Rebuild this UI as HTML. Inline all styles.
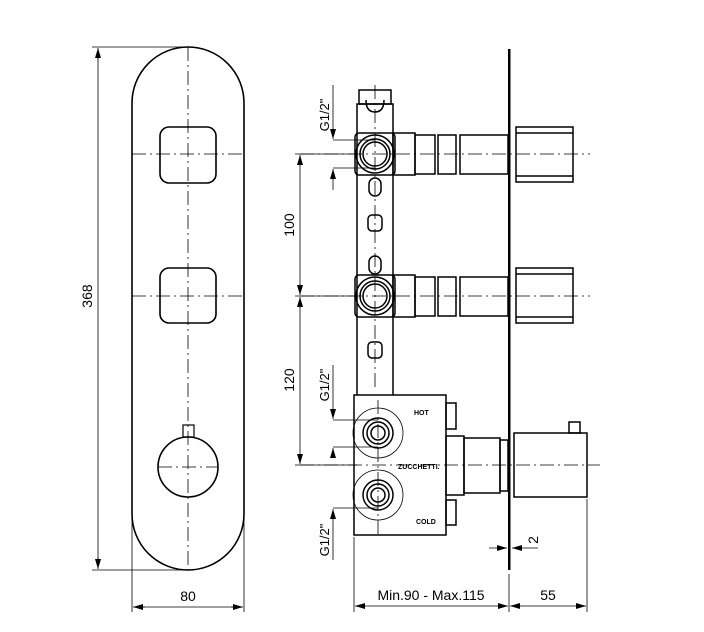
<!DOCTYPE html>
<html><head><meta charset="utf-8"><style>
html,body{margin:0;padding:0;background:#fff;}
svg{display:block;}
text{font-family:"Liberation Sans",sans-serif;fill:#000;}
</style></head><body>
<svg width="704" height="632" viewBox="0 0 704 632" xmlns="http://www.w3.org/2000/svg">
<defs>
<marker id="a" markerWidth="10" markerHeight="6" refX="10" refY="3" orient="auto" markerUnits="userSpaceOnUse"><path d="M0,0 L10,3 L0,6 z" fill="#000"/></marker>
</defs>
<g fill="none" stroke="#000" stroke-width="1.6">
<path d="M132,103 A56,56 0 0 1 244,103 L244,514 A56,56 0 0 1 132,514 Z"/>
<rect x="160" y="127" width="56" height="56" rx="9"/>
<rect x="160" y="268" width="56" height="55" rx="9"/>
<circle cx="188" cy="467" r="30"/>
<rect x="183" y="425" width="11" height="12" stroke-width="1.2"/>
</g>
<g fill="none" stroke="#000" stroke-width="0.8" stroke-dasharray="14,4,2,4">
<line x1="188" y1="47" x2="188" y2="570"/>
<line x1="132" y1="154" x2="244" y2="154"/>
<line x1="132" y1="296" x2="244" y2="296"/>
<line x1="158" y1="467" x2="218" y2="467"/>
</g>
<g stroke="#000" stroke-width="0.8" fill="none">
<line x1="92" y1="47" x2="188" y2="47"/>
<line x1="92" y1="570" x2="188" y2="570"/>
<line x1="98" y1="57" x2="98" y2="560"/>
<line x1="98" y1="60" x2="98" y2="48" marker-end="url(#a)"/>
<line x1="98" y1="557" x2="98" y2="569" marker-end="url(#a)"/>
<line x1="132" y1="520" x2="132" y2="612"/>
<line x1="244" y1="520" x2="244" y2="612"/>
<line x1="142" y1="607" x2="234" y2="607"/>
<line x1="145" y1="607" x2="133" y2="607" marker-end="url(#a)"/>
<line x1="231" y1="607" x2="243" y2="607" marker-end="url(#a)"/>
</g>
<text x="92" y="296" font-size="14" text-anchor="middle" transform="rotate(-90 92 296)">368</text>
<text x="188" y="601" font-size="14" text-anchor="middle">80</text>

<rect x="508" y="49" width="2.5" height="521" fill="#000"/>
<g fill="none" stroke="#000" stroke-width="1.5">
<path d="M357,395 L357,104 L393,104 L393,395"/>
<rect x="359" y="90" width="32" height="14"/>
<path d="M366,100 Q366,112 375,112 Q384,112 384,100"/>
<rect x="355" y="133" width="40" height="42" rx="4"/>
<circle cx="375" cy="154" r="19"/><circle cx="375" cy="154" r="15"/><circle cx="375" cy="154" r="12"/>
<rect x="393" y="133" width="22" height="42"/>
<rect x="415" y="135" width="20" height="39"/>
<rect x="438" y="135" width="18" height="39"/>
<rect x="460" y="135" width="48" height="39"/>
<rect x="516" y="127" width="57" height="55"/>
<line x1="516" y1="133" x2="573" y2="133"/><line x1="516" y1="176" x2="573" y2="176"/>
<rect x="369" y="178" width="12" height="18" rx="6"/>
<rect x="368" y="215" width="14" height="16" rx="4"/>
<rect x="369" y="256" width="12" height="18" rx="6"/>
<rect x="355" y="275" width="40" height="42" rx="4"/>
<circle cx="375" cy="296" r="19"/><circle cx="375" cy="296" r="15"/><circle cx="375" cy="296" r="12"/>
<rect x="393" y="275" width="22" height="42"/>
<rect x="415" y="277" width="20" height="39"/>
<rect x="438" y="277" width="18" height="39"/>
<rect x="460" y="277" width="48" height="39"/>
<rect x="516" y="268" width="57" height="55"/>
<line x1="516" y1="274" x2="573" y2="274"/><line x1="516" y1="317" x2="573" y2="317"/>
<rect x="368" y="342" width="14" height="16" rx="4"/>
<rect x="354" y="395" width="92" height="140"/>
<circle cx="378" cy="433" r="25" stroke-width="0.8"/>
<circle cx="378" cy="433" r="15"/><circle cx="378" cy="433" r="11"/><circle cx="378" cy="433" r="7"/>
<circle cx="378" cy="495" r="25" stroke-width="0.8"/>
<circle cx="378" cy="495" r="15"/><circle cx="378" cy="495" r="11"/><circle cx="378" cy="495" r="7"/>
<rect x="446" y="403" width="10" height="26"/>
<rect x="446" y="500" width="10" height="25"/>
<rect x="446" y="436" width="18" height="59"/>
<rect x="464" y="438" width="36" height="55"/>
<rect x="500" y="440" width="8" height="51"/>
<rect x="514" y="433" width="73" height="64"/>
<rect x="569" y="422" width="11" height="11"/>
</g>
<g fill="none" stroke="#000" stroke-width="0.8" stroke-dasharray="14,4,2,4">
<line x1="375" y1="85" x2="375" y2="390"/>
<line x1="300" y1="154" x2="590" y2="154"/>
<line x1="300" y1="296" x2="590" y2="296"/>
<line x1="300" y1="465" x2="600" y2="465"/>
<line x1="378" y1="400" x2="378" y2="535"/>
</g>
<text x="414" y="415" font-size="7" font-weight="bold">HOT</text>
<text x="398" y="469" font-size="7" font-weight="bold">ZUCCHETTI.</text>
<text x="416" y="524" font-size="7" font-weight="bold">COLD</text>
<g stroke="#000" stroke-width="0.8" fill="none">
<line x1="295" y1="154" x2="357" y2="154"/>
<line x1="295" y1="296" x2="357" y2="296"/>
<line x1="295" y1="465" x2="357" y2="465"/>
<line x1="300" y1="166" x2="300" y2="155" marker-end="url(#a)"/>
<line x1="300" y1="166" x2="300" y2="284"/>
<line x1="300" y1="284" x2="300" y2="295" marker-end="url(#a)"/>
<line x1="300" y1="308" x2="300" y2="297" marker-end="url(#a)"/>
<line x1="300" y1="308" x2="300" y2="453"/>
<line x1="300" y1="453" x2="300" y2="464" marker-end="url(#a)"/>
<line x1="333" y1="85" x2="333" y2="139" marker-end="url(#a)"/>
<line x1="333" y1="140" x2="375" y2="140"/>
<line x1="333" y1="168" x2="375" y2="168"/>
<line x1="333" y1="190" x2="333" y2="169" marker-end="url(#a)"/>
<line x1="333" y1="365" x2="333" y2="419" marker-end="url(#a)"/>
<line x1="333" y1="420" x2="378" y2="420"/>
<line x1="333" y1="447" x2="378" y2="447"/>
<line x1="333" y1="458" x2="333" y2="448" marker-end="url(#a)"/>
<line x1="333" y1="508" x2="378" y2="508"/>
<line x1="333" y1="560" x2="333" y2="509" marker-end="url(#a)"/>
<line x1="354" y1="537" x2="354" y2="612"/>
<line x1="509" y1="574" x2="509" y2="612"/>
<line x1="587" y1="499" x2="587" y2="612"/>
<line x1="366" y1="606" x2="355" y2="606" marker-end="url(#a)"/>
<line x1="366" y1="606" x2="497" y2="606"/>
<line x1="497" y1="606" x2="508" y2="606" marker-end="url(#a)"/>
<line x1="522" y1="606" x2="510" y2="606" marker-end="url(#a)"/>
<line x1="522" y1="606" x2="575" y2="606"/>
<line x1="575" y1="606" x2="586" y2="606" marker-end="url(#a)"/>
<line x1="489" y1="548" x2="507" y2="548" marker-end="url(#a)"/>
<line x1="538" y1="548" x2="512" y2="548" marker-end="url(#a)"/>
</g>
<text x="294" y="225" font-size="14" text-anchor="middle" transform="rotate(-90 294 225)">100</text>
<text x="294" y="380" font-size="14" text-anchor="middle" transform="rotate(-90 294 380)">120</text>
<text x="329" y="115" font-size="13" text-anchor="middle" transform="rotate(-90 329 115)">G1/2"</text>
<text x="329" y="385" font-size="13" text-anchor="middle" transform="rotate(-90 329 385)">G1/2"</text>
<text x="329" y="540" font-size="13" text-anchor="middle" transform="rotate(-90 329 540)">G1/2"</text>
<text x="538" y="540" font-size="14" text-anchor="middle" transform="rotate(-90 538 540)">2</text>
<text x="431" y="600" font-size="14" text-anchor="middle">Min.90  -  Max.115</text>
<text x="548" y="600" font-size="14" text-anchor="middle">55</text>
</svg>
</body></html>
